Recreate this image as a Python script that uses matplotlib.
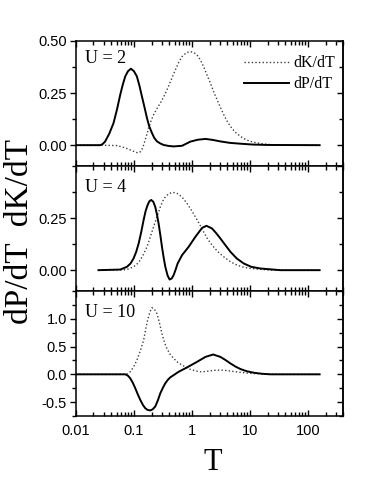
import numpy as np
import matplotlib
matplotlib.use('Agg')
import matplotlib.pyplot as plt
from matplotlib import ticker

plt.rcParams['font.family'] = ['Liberation Sans', 'DejaVu Sans']
plt.rcParams['axes.unicode_minus'] = False
SERIF = ['Liberation Serif', 'DejaVu Serif']

# U = 2
T_P2 = [0.01, 0.0261, 0.0287, 0.0318, 0.0374, 0.0443, 0.0507, 0.0578, 0.0639, 0.0705, 0.0786,
        0.0883, 0.0997, 0.112, 0.124, 0.137, 0.152, 0.167, 0.183, 0.204, 0.223, 0.249, 0.284,
        0.323, 0.400, 0.481, 0.672, 0.935, 1.25, 1.70, 2.30, 3.08, 4.5, 6.83, 11.0, 19.7, 158]
P_2 = [0, 0, 0.005, 0.018, 0.055, 0.106, 0.17, 0.242, 0.29, 0.33, 0.355,
       0.367, 0.355, 0.33, 0.285, 0.233, 0.18, 0.13, 0.09, 0.058, 0.035, 0.018, 0.008,
       0.001, -0.004, -0.006, -0.003, 0.017, 0.026, 0.03, 0.025, 0.018, 0.011, 0.007, 0.003, 0.001, 0]
T_K2 = [0.01, 0.0261, 0.0507, 0.0705, 0.092, 0.105, 0.117, 0.128, 0.137, 0.146, 0.156, 0.167, 0.178,
        0.197, 0.217, 0.250, 0.284, 0.325, 0.370, 0.440, 0.515, 0.590, 0.672, 0.80, 0.935, 1.07,
        1.22, 1.40, 1.58, 1.80, 2.07, 2.35, 2.70, 3.10, 3.52, 4.00, 4.59, 5.5, 6.83, 8.3, 10.2,
        13.0, 17.2, 22.0, 29.4, 158]
K_2 = [0, 0, -0.002, -0.013, -0.026, -0.033, -0.037, -0.032, -0.02, 0.0, 0.026, 0.053, 0.082,
       0.118, 0.146, 0.177, 0.202, 0.232, 0.266, 0.316, 0.361, 0.398, 0.425, 0.444, 0.449, 0.445,
       0.433, 0.408, 0.377, 0.338, 0.298, 0.257, 0.218, 0.180, 0.146, 0.116, 0.09, 0.063, 0.042,
       0.028, 0.018, 0.011, 0.006, 0.003, 0.0, 0]

# U = 4
T_P4 = [0.0244, 0.0578, 0.0754, 0.087, 0.098, 0.109, 0.120, 0.133, 0.146, 0.158, 0.171, 0.184,
        0.198, 0.215, 0.232, 0.248, 0.265, 0.284, 0.303, 0.325, 0.346, 0.378, 0.410, 0.445, 0.481,
        0.520, 0.564, 0.672, 0.873, 1.14, 1.49, 1.77, 2.21, 2.60, 3.08, 3.80, 4.59, 5.9, 7.79,
        10.5, 15.1, 33.5, 158]
P_4 = [0, 0.003, 0.016, 0.032, 0.056, 0.088, 0.128, 0.183, 0.24, 0.283, 0.312, 0.331,
       0.337, 0.328, 0.304, 0.268, 0.224, 0.168, 0.112, 0.058, 0.016, -0.025, -0.045, -0.040,
       -0.024, 0.002, 0.032, 0.072, 0.112, 0.16, 0.203, 0.213, 0.2, 0.178, 0.152, 0.118, 0.088,
       0.056, 0.032, 0.016, 0.008, 0, 0]
T_K4 = [0.0244, 0.0659, 0.081, 0.098, 0.112, 0.128, 0.146, 0.167, 0.190, 0.217, 0.250, 0.284,
        0.315, 0.346, 0.395, 0.451, 0.515, 0.587, 0.70, 0.820, 0.97, 1.14, 1.35, 1.58, 1.85,
        2.21, 2.80, 3.52, 4.6, 5.99, 7.8, 10.2, 22.5, 158]
K_4 = [0, 0.001, 0.006, 0.016, 0.029, 0.048, 0.077, 0.112, 0.158, 0.208, 0.258, 0.304,
       0.333, 0.352, 0.366, 0.373, 0.372, 0.365, 0.345, 0.32, 0.289, 0.256, 0.220, 0.184, 0.150,
       0.12, 0.088, 0.064, 0.040, 0.024, 0.014, 0.008, 0, 0]

# U = 10
T_P10 = [0.01, 0.0705, 0.078, 0.0859, 0.095, 0.105, 0.116, 0.128, 0.142, 0.156, 0.171, 0.190,
         0.209, 0.232, 0.257, 0.284, 0.315, 0.346, 0.385, 0.422, 0.50, 0.587, 0.820, 1.22, 1.70,
         2.31, 3.08, 3.80, 4.59, 5.6, 6.83, 8.8, 11.6, 16.0, 22.5, 158]
P_10 = [0, 0, -0.022, -0.071, -0.15, -0.25, -0.36, -0.46, -0.55, -0.61, -0.64, -0.65,
        -0.63, -0.58, -0.47, -0.34, -0.24, -0.16, -0.095, -0.054, -0.003, 0.046, 0.125, 0.225,
        0.314, 0.357, 0.314, 0.255, 0.196, 0.140, 0.095, 0.055, 0.029, 0.010, 0, 0]
T_K10 = [0.01, 0.0705, 0.078, 0.0859, 0.098, 0.112, 0.128, 0.146, 0.158, 0.171, 0.187, 0.204,
         0.225, 0.249, 0.275, 0.303, 0.335, 0.370, 0.420, 0.481, 0.570, 0.672, 0.80, 0.935, 1.15,
         1.39, 1.70, 2.07, 2.50, 3.08, 3.80, 4.59, 6.0, 7.79, 11.0, 17.2, 33.5, 158]
K_10 = [0, 0, 0.012, 0.046, 0.13, 0.255, 0.42, 0.61, 0.80, 0.97, 1.12, 1.2,
        1.17, 1.09, 0.92, 0.73, 0.57, 0.46, 0.36, 0.286, 0.215, 0.166, 0.122, 0.089, 0.062,
        0.046, 0.050, 0.064, 0.073, 0.077, 0.070, 0.059, 0.042, 0.029, 0.015, 0.007, 0, 0]

panels = [
    ('U = 2', T_K2, K_2, T_P2, P_2, (-0.1, 0.5), [0, 0.25, 0.5], 0.125, '%.2f'),
    ('U = 4', T_K4, K_4, T_P4, P_4, (-0.1, 0.5), [0, 0.25], 0.125, '%.2f'),
    ('U = 10', T_K10, K_10, T_P10, P_10, (-0.75, 1.5), [-0.5, 0, 0.5, 1.0], 0.25, '%.1f'),
]

fig = plt.figure(figsize=(3.82, 5.0), dpi=100)
gs = fig.add_gridspec(3, 1, left=0.199, right=0.898, top=0.918, bottom=0.168, hspace=0)

for i, (lab, tk, kv, tp, pv, ylim, yt, ymin, fmt) in enumerate(panels):
    ax = fig.add_subplot(gs[i])
    ax.plot(tk, kv, color='0.25', ls=(0, (1, 1.6)), lw=1.0, label='dK/dT')
    ax.plot(tp, pv, color='black', ls='-', lw=1.4, label='dP/dT')
    ax.set_xscale('log')
    ax.set_xlim(0.01, 400)
    ax.set_ylim(*ylim)
    ax.set_yticks(yt)
    ax.yaxis.set_minor_locator(ticker.MultipleLocator(ymin))
    ax.yaxis.set_major_formatter(ticker.FormatStrFormatter(fmt))
    ax.xaxis.set_major_locator(ticker.LogLocator(base=10, numticks=10))
    ax.xaxis.set_minor_locator(ticker.LogLocator(base=10, subs=np.arange(2, 10), numticks=20))
    ax.xaxis.set_minor_formatter(ticker.NullFormatter())
    ax.xaxis.set_major_formatter(ticker.FuncFormatter(lambda v, p: f'{v:g}'))
    for s in ax.spines.values():
        s.set_linewidth(1.1)
    ax.tick_params(axis='x', which='both', direction='in', top=True, bottom=True, width=1.0)
    ax.tick_params(axis='x', which='major', length=4.5, pad=6, labelsize=10.5)
    ax.tick_params(axis='x', which='minor', length=2.6)
    ax.tick_params(axis='y', which='both', direction='out', right=False, width=1.0)
    ax.tick_params(axis='y', which='major', length=4.0, pad=2.5, labelsize=10.5)
    ax.tick_params(axis='y', which='minor', length=2.6)
    if i < 2:
        ax.tick_params(axis='x', which='both', labelbottom=False)

    # inward ticks on the right side
    sec = ax.secondary_yaxis('right')
    sec.set_yticks(np.arange(ylim[0] - ylim[0] % (2 * ymin), ylim[1] + 0.001, 2 * ymin))
    sec.yaxis.set_minor_locator(ticker.MultipleLocator(ymin))
    sec.tick_params(axis='y', which='both', direction='in', labelright=False, width=1.0)
    sec.tick_params(axis='y', which='major', length=4.0)
    sec.tick_params(axis='y', which='minor', length=2.6)
    sec.spines['right'].set_linewidth(1.1)

    y_lab = 0.86 if i == 0 else 0.825
    ax.text(0.035, y_lab, lab, transform=ax.transAxes, family=SERIF, fontsize=13,
            ha='left', va='center')
    if i == 0:
        ax.legend(loc='upper right', bbox_to_anchor=(1.025, 1.0), frameon=False,
                  prop={'family': SERIF, 'size': 11.5},
                  handlelength=2.8, handletextpad=0.3, labelspacing=0.3,
                  borderaxespad=0.5, borderpad=0.4)

fig.text(0.052, 0.536, 'dP/dT  dK/dT', rotation=90, family=SERIF, fontsize=24,
         ha='center', va='center')
fig.text(0.558, 0.074, 'T', family=SERIF, fontsize=22, ha='center', va='center')

fig.savefig('out.png', dpi=100)
